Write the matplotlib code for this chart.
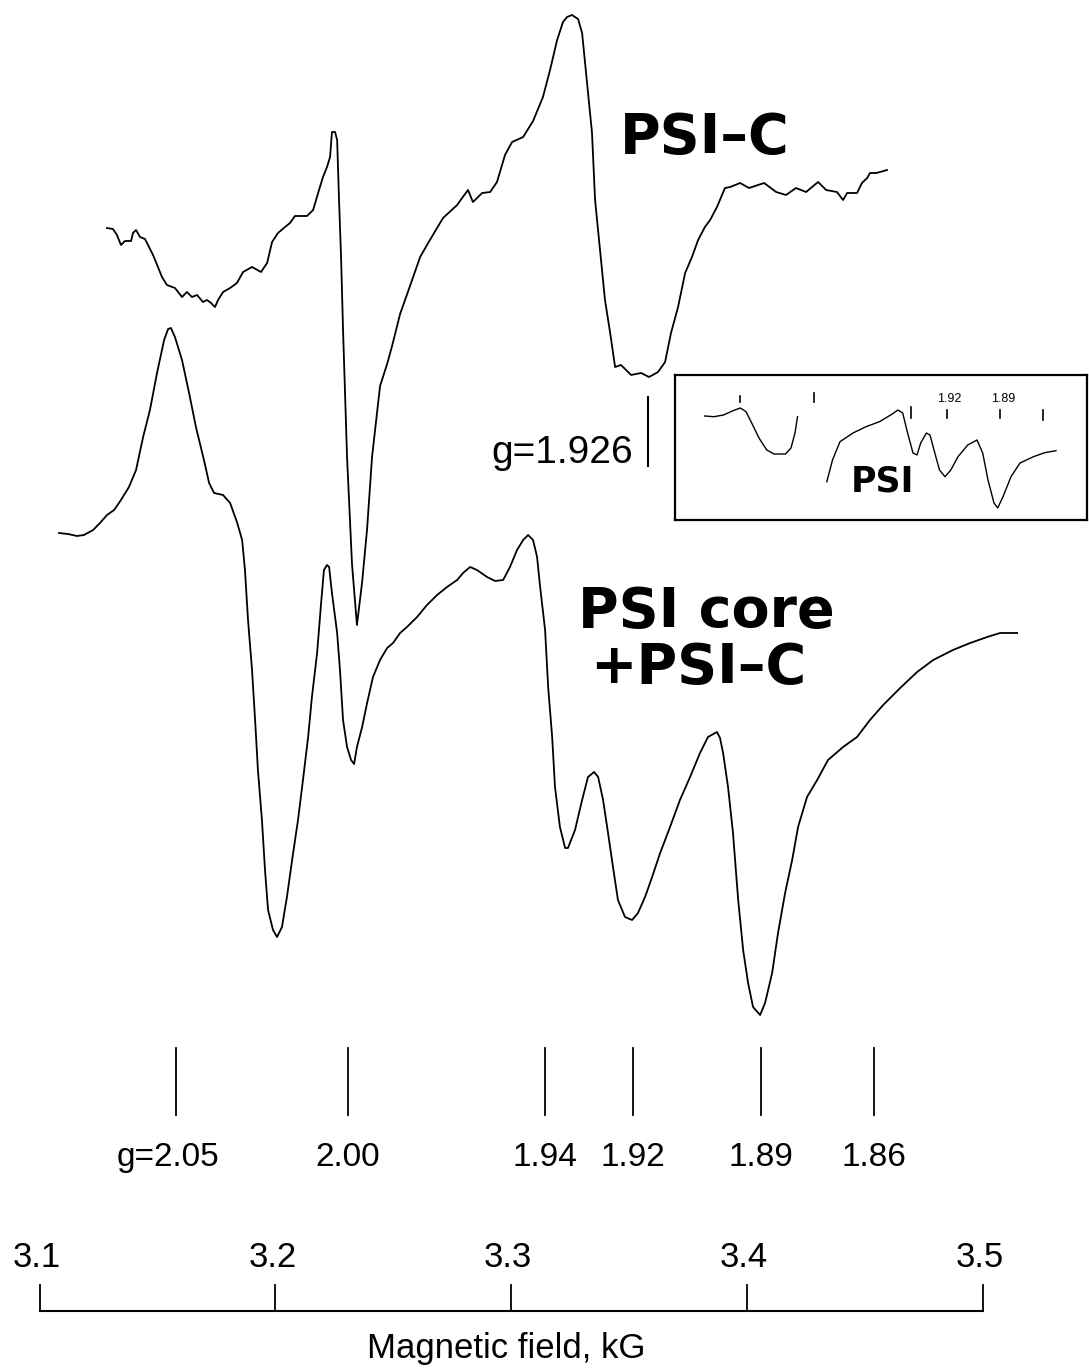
import matplotlib
matplotlib.use("Agg")
from matplotlib import pyplot as plt
from matplotlib import font_manager

# magnetic field (G) and derivative signal (arbitrary units, chart heights)
PSI_C_FIELD = [3128.6, 3131.1, 3132.8, 3134.5, 3136.2, 3138.8, 3139.6, 3140.9, 3142.6, 3144.7,
               3146.4, 3148.1, 3150.2, 3151.9, 3154.0, 3157.4, 3160.4, 3162.5, 3164.6, 3166.8,
               3169.3, 3171.0, 3172.7, 3174.4, 3175.7, 3177.8, 3180.8, 3183.7, 3186.3, 3190.1,
               3193.9, 3196.5, 3198.6, 3201.1, 3204.1, 3206.2, 3208.3, 3213.4, 3216.0, 3218.9,
               3220.2, 3221.9, 3223.2, 3224.0, 3225.3, 3226.2, 3227.0, 3227.9, 3228.7, 3230.4,
               3232.5, 3234.6, 3236.8, 3238.9, 3241.0, 3244.4, 3247.4, 3249.5, 3252.9, 3257.1,
               3261.4, 3264.8, 3271.1, 3277.1, 3279.2, 3281.7, 3283.8, 3287.7, 3291.1, 3294.0,
               3297.4, 3300.4, 3305.1, 3309.3, 3313.5, 3316.5, 3319.5, 3322.0, 3323.7, 3325.8,
               3328.4, 3330.1, 3332.2, 3334.3, 3335.6, 3337.7, 3339.8, 3342.0, 3344.1, 3346.6,
               3350.9, 3355.1, 3358.5, 3362.3, 3365.3, 3367.8, 3370.8, 3373.8, 3376.7, 3379.3,
               3382.2, 3384.4, 3387.3, 3390.7, 3392.9, 3397.1, 3400.9, 3407.3, 3412.4, 3416.6,
               3420.8, 3425.1, 3430.2, 3433.6, 3438.2, 3440.8, 3442.5, 3446.7, 3448.8, 3451.0,
               3452.2, 3454.8, 3456.5, 3459.4]
PSI_C_SIGNAL = [0, -1, -7, -17, -13, -13, -5, -2, -9, -11,
                -19, -27, -39, -49, -57, -60, -69, -64, -69, -67,
                -74, -72, -75, -79, -72, -64, -60, -55, -44, -39,
                -44, -35, -14, -5, 1, 5, 12, 12, 18, 41,
                51, 61, 71, 96, 96, 88, 28, -32, -102, -229,
                -336, -397, -354, -301, -229, -158, -136, -118, -86, -58,
                -29, -15, 10, 23, 30, 38, 26, 35, 36, 46,
                73, 86, 91, 107, 131, 158, 188, 206, 211, 213,
                209, 195, 145, 95, 28, -22, -72, -105, -139, -137,
                -147, -145, -149, -144, -134, -105, -79, -45, -29, -12,
                1, 8, 21, 40, 41, 45, 40, 45, 36, 33,
                40, 36, 46, 38, 36, 28, 35, 35, 45, 50,
                55, 55, 56, 58]

CORE_FIELD = [3108.2, 3112.0, 3115.9, 3118.8, 3122.7, 3125.6, 3128.6, 3131.6, 3134.5, 3137.9,
              3140.9, 3143.9, 3146.8, 3149.8, 3152.8, 3154.5, 3155.7, 3157.4, 3160.4, 3163.4,
              3166.3, 3169.7, 3171.9, 3174.0, 3177.8, 3180.8, 3183.7, 3185.9, 3187.1, 3188.4,
              3190.1, 3191.4, 3192.6, 3194.3, 3195.6, 3196.9, 3199.0, 3200.7, 3202.8, 3204.9,
              3207.1, 3209.6, 3211.7, 3213.9, 3215.5, 3217.7, 3219.4, 3220.6, 3221.9, 3222.8,
              3224.0, 3226.2, 3227.4, 3228.7, 3230.4, 3232.1, 3233.4, 3234.6, 3236.8, 3238.9,
              3241.4, 3244.4, 3247.4, 3249.9, 3252.9, 3255.8, 3260.1, 3264.3, 3268.6, 3272.8,
              3277.1, 3279.6, 3282.6, 3285.5, 3289.8, 3293.2, 3296.6, 3299.5, 3302.5, 3305.1,
              3307.2, 3309.3, 3311.0, 3312.3, 3314.4, 3315.7, 3317.4, 3318.6, 3320.7, 3322.9,
              3324.1, 3327.1, 3330.1, 3332.6, 3335.2, 3336.9, 3339.0, 3341.1, 3343.2, 3345.3,
              3348.3, 3351.3, 3353.8, 3356.8, 3359.8, 3363.2, 3367.4, 3371.6, 3375.9, 3380.1,
              3383.5, 3387.3, 3388.6, 3389.9, 3392.0, 3394.1, 3396.3, 3398.4, 3400.5, 3402.6,
              3405.6, 3407.7, 3410.7, 3413.2, 3416.2, 3419.2, 3421.7, 3425.5, 3429.8, 3434.4,
              3440.8, 3446.7, 3452.2, 3457.8, 3465.0, 3472.2, 3479.0, 3487.4, 3494.7, 3501.9,
              3507.4, 3514.6]
CORE_SIGNAL = [0, -1, -3, -2, 3, 10, 18, 23, 33, 46,
               63, 96, 123, 160, 193, 204, 205, 196, 173, 140,
               106, 73, 50, 40, 38, 30, 11, -7, -37, -87,
               -137, -187, -237, -287, -337, -377, -397, -404, -394, -364,
               -327, -287, -247, -204, -164, -120, -70, -37, -32, -34,
               -60, -100, -137, -187, -214, -227, -231, -214, -194, -170,
               -144, -127, -115, -110, -100, -94, -84, -72, -62, -54,
               -47, -40, -34, -37, -44, -48, -47, -34, -17, -7,
               -2, -7, -24, -54, -97, -154, -204, -254, -294, -315,
               -315, -297, -267, -244, -239, -244, -267, -300, -334, -367,
               -384, -387, -380, -364, -344, -320, -294, -267, -244, -220,
               -204, -199, -205, -220, -254, -300, -367, -417, -450, -474,
               -482, -470, -440, -400, -360, -327, -294, -264, -247, -227,
               -214, -204, -187, -172, -155, -139, -127, -117, -110, -104,
               -100, -100]

PSI_C_OFFSET = 1140
CORE_OFFSET = 835

G_LABELS = ["g=2.05", "2.00", "1.94", "1.92", "1.89", "1.86"]
G_FIELD = [3157.9, 3230.8, 3314.4, 3351.7, 3406.0, 3453.9]
G_LABEL_SHIFT = [-3.4, 0, 0, 0, 0, 0]

SCALE_FIELD = [3100, 3200, 3300, 3400, 3500]
SCALE_LABELS = ["3.1", "3.2", "3.3", "3.4", "3.5"]

# inset: PSI spectrum (arbitrary units inside the box)
INSET_LEFT_X = [29.7, 39, 48.5, 58, 65.4, 71, 76.7, 84, 91.7, 99, 110.5, 116, 120, 122.5]
INSET_LEFT_Y = [104, 103.3, 105, 109.3, 112, 108.3, 97, 82, 70, 66, 66, 72, 87, 103.3]
INSET_RIGHT_X = [151.8, 157.5, 165, 178, 191, 204.4, 215.7, 223, 227.7, 232.6, 238, 242,
                 245.7, 251.4, 255, 259, 264.5, 270, 275.8, 283, 292.7, 302, 307.7, 313,
                 319, 322.7, 328, 336, 345, 358.5, 369.7, 381]
INSET_RIGHT_Y = [38.3, 60, 78.3, 87, 93.3, 98.3, 105, 110, 107, 87, 67, 65,
                 77, 87, 85, 70, 50, 43.3, 50, 63.3, 75, 80, 67, 40,
                 17, 12, 23.3, 43.3, 57, 63.3, 67.3, 69.3]
INSET_TICK_X = [65.4, 138.7, 236.4, 272, 324.6, 368]
INSET_TICK_LO = [118, 118, 102, 102, 102, 100]
INSET_TICK_HI = [124, 127, 113, 110, 110, 110]
INSET_LABELS = ["1.92", "1.89"]
INSET_LABEL_X = [274, 328]


def _pick_narrow():
    names = {f.name for f in font_manager.fontManager.ttflist}
    if "Liberation Sans Narrow" in names:
        return "Liberation Sans Narrow", 26
    return "Liberation Sans", 24


def main():
    fig = plt.figure(figsize=(10.89, 13.68), dpi=100)
    ax = fig.add_axes([0, 0, 1, 1])
    ax.set_xlim(3083.2, 3545.1)
    ax.set_ylim(0, 1368)
    ax.axis("off")

    lw = 1.3
    ax.plot(PSI_C_FIELD, [s + PSI_C_OFFSET for s in PSI_C_SIGNAL], color="black", lw=lw,
            solid_joinstyle="round")
    ax.plot(CORE_FIELD, [s + CORE_OFFSET for s in CORE_SIGNAL], color="black", lw=lw,
            solid_joinstyle="round")

    bold = dict(family="DejaVu Sans", fontweight="bold", fontsize=40, color="black")
    ax.text(3346.2, 1215, "PSI\u2013C", ha="left", va="baseline", **bold)
    ax.text(3328.4, 741, "PSI core", ha="left", va="baseline", **bold)
    ax.text(3333.5, 685, "+PSI\u2013C", ha="left", va="baseline", **bold)

    # g=1.926 marker
    ax.text(3351.7, 905, "g=1.926", ha="right", va="baseline", family="Liberation Sans",
            fontsize=28)
    ax.plot([3358.1, 3358.1], [902, 971], color="black", lw=1.5)

    # g-value markers
    narrow, nsize = _pick_narrow()
    for label, field, shift in zip(G_LABELS, G_FIELD, G_LABEL_SHIFT):
        ax.plot([field, field], [253, 320], color="black", lw=1.3)
        ax.text(field + shift, 202, label, ha="center", va="baseline", family=narrow,
                fontsize=nsize)

    # field scale bar
    ax.plot([SCALE_FIELD[0], SCALE_FIELD[-1]], [57, 57], color="black", lw=1.5)
    for field, label in zip(SCALE_FIELD, SCALE_LABELS):
        ax.plot([field, field], [57, 83], color="black", lw=1.3)
        ax.text(field - 1.3, 101, label, ha="center", va="baseline", family="Liberation Sans",
                fontsize=25)
    ax.text(3297.8, 10, "Magnetic field, kG", ha="center", va="baseline",
            family="Liberation Sans", fontsize=25)

    # inset with PSI spectrum
    ins = fig.add_axes([675 / 1089, (1368 - 520) / 1368, 412 / 1089, 145 / 1368])
    ins.set_xlim(0, 412)
    ins.set_ylim(0, 145)
    ins.set_xticks([])
    ins.set_yticks([])
    for sp in ins.spines.values():
        sp.set_linewidth(1.6)
    ins.plot(INSET_LEFT_X, INSET_LEFT_Y, color="black", lw=1.0)
    ins.plot(INSET_RIGHT_X, INSET_RIGHT_Y, color="black", lw=1.0)
    for x, lo, hi in zip(INSET_TICK_X, INSET_TICK_LO, INSET_TICK_HI):
        ins.plot([x, x], [lo, hi], color="black", lw=1.2)
    for label, x in zip(INSET_LABELS, INSET_LABEL_X):
        ins.text(x, 121, label, ha="center", va="center", family="Liberation Sans", fontsize=9)
    ins.text(208, 39, "PSI", ha="center", va="center", family="DejaVu Sans",
             fontweight="bold", fontsize=25)

    fig.savefig("out.png", dpi=100, facecolor="white")


if __name__ == "__main__":
    main()
